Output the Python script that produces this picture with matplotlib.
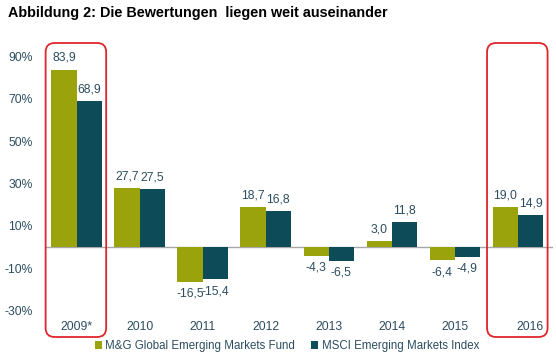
import numpy as np
import matplotlib.pyplot as plt
import matplotlib.transforms as mtransforms
from matplotlib.patches import FancyBboxPatch
from matplotlib.transforms import IdentityTransform

plt.rcParams['font.family'] = ['Liberation Sans', 'DejaVu Sans']

# data
years = ['2009*', '2010', '2011', '2012', '2013', '2014', '2015', '2016']
fund = [83.9, 27.7, -16.5, 18.7, -4.3, 3.0, -6.4, 19.0]
msci = [68.9, 27.5, -15.4, 16.8, -6.5, 11.8, -4.9, 14.9]
yticks = [90, 70, 50, 30, 10, -10, -30]
fund_name = 'M&G Global Emerging Markets Fund'
msci_name = 'MSCI Emerging Markets Index'

green = '#9AA30C'
teal = '#0C4B57'
txt = '#2C4D60'

fig = plt.figure(figsize=(5.56, 3.55), dpi=100)
ax = fig.add_axes([45/556, 40/355, 508/556, 270/355])

x = np.arange(len(years))
w = 0.4
b1 = ax.bar(x - w/2, fund, w, color=green, label=fund_name)
b2 = ax.bar(x + w/2, msci, w, color=teal, label=msci_name)
ax.axhline(0, color='#A8A8A8', lw=1, zorder=0)

def fmt(v):
    return ('%.1f' % v).replace('.', ',')

for bars, vals in ((b1, fund), (b2, msci)):
    for r, v in zip(bars, vals):
        cx = r.get_x() + r.get_width()/2
        if v >= 0:
            ax.annotate(fmt(v), (cx, v), xytext=(0, 4), textcoords='offset points',
                        ha='center', va='bottom', fontsize=8.7, color=txt)
        else:
            ax.annotate(fmt(v), (cx, v), xytext=(0, -4), textcoords='offset points',
                        ha='center', va='top', fontsize=8.7, color=txt)

ax.set_xlim(-0.5, 7.556)
ax.set_ylim(-32.2, 95.5)
ax.set_yticks(yticks)
ax.set_yticklabels(['%d%%' % t for t in yticks])
ax.set_xticks(x)
ax.set_xticklabels(years)
ax.tick_params(length=0, labelsize=8.7, labelcolor=txt)
ax.tick_params(axis='y', pad=9)
ax.tick_params(axis='x', pad=4)
for s in ax.spines.values():
    s.set_visible(False)

# 2016 label sits a bit right of its bars in the original
lab = ax.get_xticklabels()[-1]
lab.set_transform(lab.get_transform() + mtransforms.ScaledTranslation(12/100, 0, fig.dpi_scale_trans))

# red rounded boxes round 2009 and 2016
for i in (0, 7):
    x0 = ax.transData.transform((i - 0.49, 0))[0]
    x1 = ax.transData.transform((i + 0.47, 0))[0]
    y0 = 355 - 337
    y1 = 355 - 43
    box = FancyBboxPatch((x0, y0), x1 - x0, y1 - y0,
                         boxstyle='round,pad=0,rounding_size=9',
                         transform=IdentityTransform(), fill=False,
                         edgecolor='#E0262B', lw=1.3)
    fig.patches.append(box)

fig.text(8/556, 1 - 13/355, 'Abbildung 2: Die Bewertungen  liegen weit auseinander',
         fontsize=10.4, weight='bold', va='center', ha='left', color='black')

fig.legend(handles=[b1, b2], loc='center', bbox_to_anchor=(287/556, 1 - 346/355),
           ncol=2, frameon=False, fontsize=8.3, handlelength=0.6, handleheight=0.6,
           handletextpad=0.3, columnspacing=1.4, labelcolor=txt)

fig.savefig('out.png', dpi=100)
